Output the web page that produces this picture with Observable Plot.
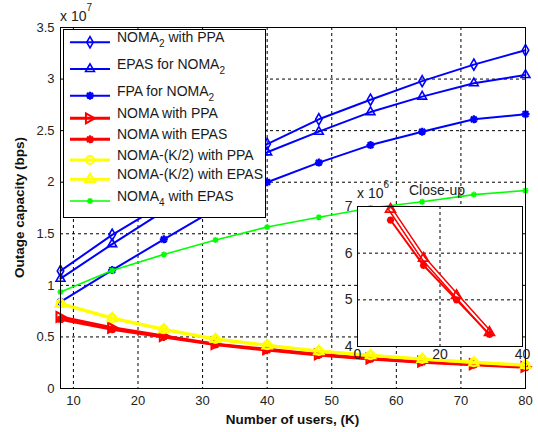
<!DOCTYPE html>
<html><head><meta charset="utf-8">
<script src="https://cdn.jsdelivr.net/npm/d3@7"></script>
<script src="https://cdn.jsdelivr.net/npm/@observablehq/plot@0.6"></script>
<style>
body{margin:0;background:#fff;}
#wrap{position:relative;width:538px;height:432px;font-family:"Liberation Sans",Arial,sans-serif;}
#wrap svg{position:absolute;left:0;top:0;}
</style></head><body><div id="wrap"></div>
<script>
// ---- data (values in units of 1e7 bps) ----
const users = [8, 16, 24, 32, 40, 48, 56, 64, 72, 80];
const noma2PPA   = [1.14, 1.49, 1.79, 2.08, 2.37, 2.61, 2.80, 2.98, 3.14, 3.28];
const epasNoma2  = [1.065, 1.40, 1.72, 2.02, 2.29, 2.49, 2.68, 2.83, 2.96, 3.04];
const fpaNoma2   = [0.84, 1.148, 1.446, 1.74, 2.00, 2.19, 2.36, 2.49, 2.61, 2.66];
const nomaPPA    = [0.694, 0.589, 0.509, 0.430, 0.380, 0.330, 0.290, 0.260, 0.235, 0.210];
const nomaEPAS   = [0.671, 0.574, 0.500, 0.426, 0.372, 0.325, 0.285, 0.255, 0.230, 0.205];
const halfPPA    = [0.824, 0.684, 0.575, 0.480, 0.420, 0.364, 0.323, 0.286, 0.254, 0.228];
const halfEPAS   = [0.820, 0.680, 0.572, 0.477, 0.416, 0.360, 0.320, 0.283, 0.251, 0.225];
const noma4EPAS  = [0.935, 1.145, 1.30, 1.44, 1.565, 1.66, 1.75, 1.81, 1.88, 1.92];
const xTicks = [10, 20, 30, 40, 50, 60, 70, 80];
const yTicks = [0, 0.5, 1, 1.5, 2, 2.5, 3, 3.5];
const insetCount = 4;           // close-up shows first four user counts
const insetXTicks = [0, 20, 40];
const insetYTicks = [4, 5, 6, 7];

// ---- custom symbols ----
const star8 = {draw(c, size){const r=Math.sqrt(size/Math.PI), d=r*0.72;
  c.moveTo(-r,0);c.lineTo(r,0);c.moveTo(0,-r);c.lineTo(0,r);
  c.moveTo(-d,-d);c.lineTo(d,d);c.moveTo(-d,d);c.lineTo(d,-d);}};
const triRight = {draw(c, size){const r=Math.sqrt(size/Math.PI);
  c.moveTo(r*1.1,0);c.lineTo(-r*0.9,-r*1.1);c.lineTo(-r*0.9,r*1.1);c.closePath();}};

const series = [
  {parts:[["NOMA"],["2","sub"],[" with PPA"]], v:noma2PPA, color:"#0000ff", sym:"diamond", r:3.4, lw:2, mw:1.6},
  {parts:[["EPAS for NOMA"],["2","sub"]], v:epasNoma2, color:"#0000ff", sym:"triangle", r:3.3, lw:2, mw:1.6},
  {parts:[["FPA for NOMA"],["2","sub"]], v:fpaNoma2, color:"#0000ff", sym:star8, r:4, lw:2, mw:2.2},
  {parts:[["NOMA with PPA"]], v:nomaPPA, color:"#ff0000", sym:triRight, r:4.5, lw:3, mw:2},
  {parts:[["NOMA with EPAS"]], v:nomaEPAS, color:"#ff0000", sym:star8, r:4, lw:3, mw:2.2},
  {parts:[["NOMA-(K/2) with PPA"]], v:halfPPA, color:"#ffff00", sym:"circle", r:4, lw:3, mw:2},
  {parts:[["NOMA-(K/2) with EPAS"]], v:halfEPAS, color:"#ffff00", sym:"triangle", r:3.6, lw:3, mw:2},
  {parts:[["NOMA"],["4","sub"],[" with EPAS"]], v:noma4EPAS, color:"#00ff00", sym:star8, r:3, lw:1.6, mw:1.5}
];

const dash = {stroke:"#000", strokeOpacity:1, strokeDasharray:"3,3", strokeWidth:1};
const font = '"Liberation Sans", Arial, sans-serif';

const seriesMarks = [];
series.forEach(s => {
  const rows = users.map((k,i) => ({k, v:s.v[i]}));
  seriesMarks.push(Plot.line(rows, {x:"k", y:"v", stroke:s.color, strokeWidth:s.lw}));
  seriesMarks.push(Plot.dot(rows, {x:"k", y:"v", symbol:s.sym, r:s.r, stroke:s.color, fill:"none", strokeWidth:s.mw}));
});

const main = Plot.plot({
  width:538, height:432, marginLeft:60, marginRight:13, marginTop:27, marginBottom:44,
  x:{domain:[8,80]}, y:{domain:[0,3.5]},
  style:{fontFamily:font, fontSize:"13px", color:"#222", background:"transparent", overflow:"visible"},
  marks:[
    Plot.gridX(xTicks, dash),
    Plot.gridY(yTicks, dash),
    Plot.axisX(xTicks, {tickSize:0, tickPadding:7, label:null}),
    Plot.axisY(yTicks, {tickSize:0, tickPadding:6, label:null, tickFormat:d=>String(d)}),
    ...seriesMarks,
    Plot.frame({stroke:"#000"})
  ]
});
document.getElementById("wrap").appendChild(main);

const svg = d3.select(main);
// multiplier
const m = svg.append("text").attr("x",60).attr("y",20.5).attr("text-anchor","start")
  .style("font-size","14px").attr("fill","#222");
m.append("tspan").text("x 10");
m.append("tspan").attr("dy",-10).style("font-size","10px").text("7");
// axis titles
svg.append("text").attr("transform","translate(19,207.5) rotate(-90)")
  .attr("text-anchor","middle").attr("dominant-baseline","central")
  .style("font-size","13.5px").style("font-weight","bold").attr("fill","#111")
  .text("Outage capacity (bps)");
svg.append("text").attr("x",292.5).attr("y",419).attr("text-anchor","middle")
  .attr("dominant-baseline","central")
  .style("font-size","13.5px").style("font-weight","bold").attr("fill","#111")
  .text("Number of users, (K)");

// legend
const lg = svg.append("g");
lg.append("rect").attr("x",63.5).attr("y",29.5).attr("width",202).attr("height",188)
  .attr("fill","#fff").attr("stroke","#000");
const ly = [42.3, 69, 95.7, 118.3, 139.3, 160, 179.3, 201];
series.forEach((s,i) => {
  const y = ly[i];
  lg.append("line").attr("x1",70).attr("x2",110).attr("y1",y).attr("y2",y)
    .attr("stroke",s.color).attr("stroke-width",s.lw);
  const type = typeof s.sym === "string" ? ({diamond:d3.symbolDiamond, triangle:d3.symbolTriangle, circle:d3.symbolCircle})[s.sym] : s.sym;
  lg.append("path").attr("d", d3.symbol(type, Math.PI*s.r*s.r)())
    .attr("transform",`translate(90,${y})`).attr("fill","none")
    .attr("stroke",s.color).attr("stroke-width",s.mw);
  const t = lg.append("text").attr("x",117).attr("y",y+5).attr("text-anchor","start")
    .style("font-size","14px").attr("fill","#1a1a1a");
  s.parts.forEach(p => {
    if (p[1] === "sub") t.append("tspan").attr("dy",5).style("font-size","10px").text(p[0]);
    else t.append("tspan").attr("dy", t.selectAll("tspan").size() ? -5 : 0).text(p[0]);
  });
});

// ---- inset close-up (units of 1e6) ----
const insetPPA = users.slice(0,insetCount).map((k,i)=>({k, v:nomaPPA[i]*10}));
const insetEPAS = users.slice(0,insetCount).map((k,i)=>({k, v:nomaEPAS[i]*10}));
const inset = Plot.plot({
  width:200, height:190, marginLeft:30, marginRight:5, marginTop:30, marginBottom:20,
  x:{domain:[0,40]}, y:{domain:[4,7]},
  style:{fontFamily:font, fontSize:"14px", color:"#222", background:"transparent", overflow:"visible"},
  marks:[
    Plot.frame({fill:"#fff", stroke:"none"}),
    Plot.gridX([20], dash),
    Plot.gridY([5,6], dash),
    Plot.axisX(insetXTicks, {tickSize:0, tickPadding:3, label:null}),
    Plot.axisY(insetYTicks, {tickSize:0, tickPadding:5, label:null}),
    Plot.line(insetPPA, {x:"k", y:"v", stroke:"#ff0000", strokeWidth:5}),
    Plot.line(insetPPA, {x:"k", y:"v", stroke:"#fff", strokeWidth:2}),
    Plot.dot(insetPPA, {x:"k", y:"v", symbol:"triangle", r:3.6, stroke:"#ff0000", fill:"none", strokeWidth:1.8}),
    Plot.line(insetEPAS, {x:"k", y:"v", stroke:"#ff0000", strokeWidth:2}),
    Plot.dot(insetEPAS, {x:"k", y:"v", symbol:star8, r:3.6, stroke:"#ff0000", fill:"none", strokeWidth:2.2}),
    Plot.frame({stroke:"#000"})
  ]
});
inset.style.left = "327px"; inset.style.top = "176px";
document.getElementById("wrap").appendChild(inset);
const is = d3.select(inset);
const im = is.append("text").attr("x",30).attr("y",22).attr("text-anchor","start")
  .style("font-size","14px").attr("fill","#222");
im.append("tspan").text("x 10");
im.append("tspan").attr("dy",-10).style("font-size","10px").text("6");
is.append("text").attr("x",110).attr("y",18.5).attr("text-anchor","middle")
  .style("font-size","14px").attr("fill","#222").text("Close-up");
</script></body></html>
